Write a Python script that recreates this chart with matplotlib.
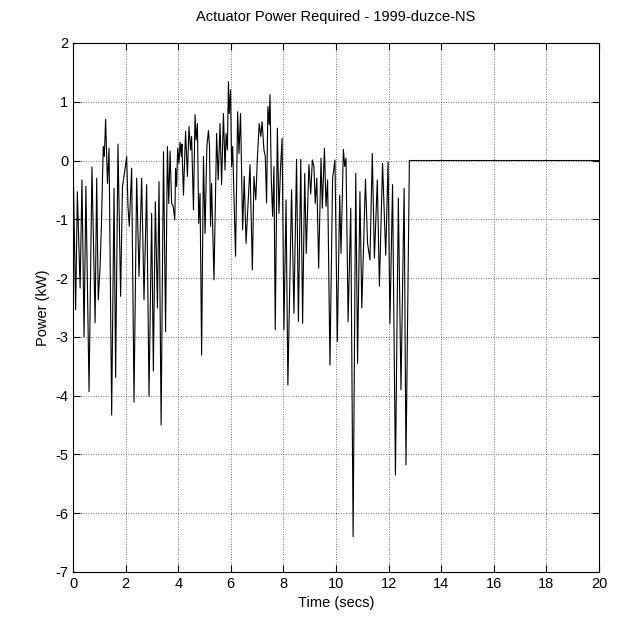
import matplotlib
matplotlib.use("Agg")
import matplotlib.pyplot as plt

# time (secs) and actuator power (kW)
time_s = [0.00, 0.10, 0.165, 0.27, 0.34, 0.42, 0.49, 0.61, 0.72, 0.84,
          0.90, 0.96, 1.03, 1.08, 1.15, 1.19, 1.24, 1.31, 1.37, 1.47,
          1.56, 1.62, 1.71, 1.81, 1.88, 1.96, 2.04, 2.09, 2.14, 2.23,
          2.32, 2.42, 2.51, 2.61, 2.70, 2.80, 2.89, 2.99, 3.055, 3.13,
          3.21, 3.27, 3.35, 3.44, 3.52, 3.59, 3.64, 3.69, 3.75, 3.81,
          3.87, 3.90, 3.94, 3.98, 4.03, 4.07, 4.12, 4.14, 4.20, 4.28,
          4.35, 4.41, 4.47, 4.51, 4.58, 4.64, 4.68, 4.73, 4.78, 4.83,
          4.89, 4.96, 5.02, 5.09, 5.15, 5.19, 5.23, 5.27, 5.36, 5.46,
          5.52, 5.59, 5.65, 5.72, 5.78, 5.82, 5.87, 5.91, 5.94, 5.99,
          6.03, 6.07, 6.13, 6.18, 6.26, 6.31, 6.37, 6.45, 6.51, 6.58,
          6.65, 6.73, 6.82, 6.88, 6.95, 7.01, 7.08, 7.14, 7.19, 7.26,
          7.31, 7.36, 7.41, 7.46, 7.49, 7.54, 7.59, 7.64, 7.69, 7.77,
          7.83, 7.89, 7.95, 8.02, 8.10, 8.17, 8.31, 8.40, 8.50, 8.57,
          8.66, 8.73, 8.81, 8.87, 8.97, 9.04, 9.10, 9.16, 9.21, 9.27,
          9.34, 9.43, 9.48, 9.56, 9.62, 9.68, 9.77, 9.87, 9.96, 10.05,
          10.14, 10.19, 10.28, 10.33, 10.38, 10.46, 10.56, 10.65, 10.75, 10.82,
          10.91, 10.98, 11.04, 11.12, 11.20, 11.29, 11.38, 11.46, 11.57, 11.65,
          11.77, 11.89, 11.98, 12.05, 12.15, 12.26, 12.37, 12.47, 12.59, 12.66,
          12.79, 20.00]
power_kw = [0.10, -2.54, -0.53, -2.17, -0.33, -3.00, -0.44, -3.93, -0.11, -2.76,
            -0.30, -2.37, -1.80, -1.10, 0.24, 0.07, 0.70, -0.39, 0.21, -4.33,
            -0.47, -3.69, 0.28, -2.31, -0.45, -0.20, 0.07, -0.78, -1.12, -0.13,
            -4.11, -0.30, -1.97, -0.30, -2.37, -0.41, -4.01, -0.90, -3.58, -0.70,
            -2.51, -0.36, -4.50, 0.15, -2.91, 0.24, -0.73, 0.16, -0.73, -0.78,
            -1.01, -0.13, -0.44, 0.21, -0.05, 0.31, 0.07, 0.28, -0.59, 0.50,
            -0.27, 0.58, 0.18, 0.41, -0.84, 0.78, 0.35, 0.63, -1.07, -0.56,
            -3.31, 0.07, -1.24, 0.24, 0.51, 0.24, -1.12, -0.39, -2.03, 0.46,
            -0.33, 0.63, -0.41, 0.80, -0.16, 0.46, 0.18, 1.34, 0.80, 1.20,
            -0.10, 0.24, -0.78, -1.63, 0.83, 0.12, 0.80, -1.18, -0.27, -1.41,
            -0.78, -0.07, -1.86, -0.27, -0.67, 0.04, 0.63, 0.41, 0.66, 0.18,
            0.07, -0.72, 0.92, 0.61, 1.12, -0.33, -0.95, -0.10, -2.88, 0.55,
            -0.90, -0.13, 0.38, -2.88, -0.67, -3.82, -0.50, -2.60, 0.02, -2.74,
            0.02, -2.77, -0.22, -1.58, -0.07, -0.57, 0.01, -0.10, -0.73, -0.30,
            -1.83, 0.04, -0.81, 0.21, -0.78, -0.33, -3.48, -0.30, 0.01, -3.08,
            -0.59, -1.58, 0.19, -0.10, 0.04, -2.74, -0.81, -6.40, -0.22, -3.45,
            -0.53, -2.51, -1.55, -0.32, -1.41, -1.69, 0.12, -1.66, -0.33, -2.14,
            -0.05, -1.61, -0.02, -2.77, -0.41, -5.35, -0.64, -3.90, -0.47, -5.18,
            0.00, 0.00]

x_ticks = list(range(0, 21, 2))
y_ticks = list(range(-7, 3))

plt.rcParams["font.family"] = ["Liberation Sans", "DejaVu Sans"]
plt.rcParams["axes.unicode_minus"] = False

fig = plt.figure(figsize=(6.31, 6.30), dpi=100)
ax = fig.add_axes([0.1157, 0.0921, 0.8336, 0.8397])

ax.plot(time_s, power_kw, color="black", linewidth=0.8)

ax.set_xlim(0, 20)
ax.set_ylim(-7, 2)
ax.set_xticks(x_ticks)
ax.set_yticks(y_ticks)
ax.grid(True, linestyle=(0, (1, 2)), color="#444444", linewidth=0.6)
ax.tick_params(direction="in", top=True, right=True, length=5, labelsize=10.5)
for s in ax.spines.values():
    s.set_linewidth(0.8)

ax.set_xlabel("Time (secs)", fontsize=10.5)
ax.set_ylabel("Power (kW)", fontsize=10.5)
ax.set_title("Actuator Power Required - 1999-duzce-NS", fontsize=10.5, pad=16)

fig.savefig("out.png", dpi=100)
